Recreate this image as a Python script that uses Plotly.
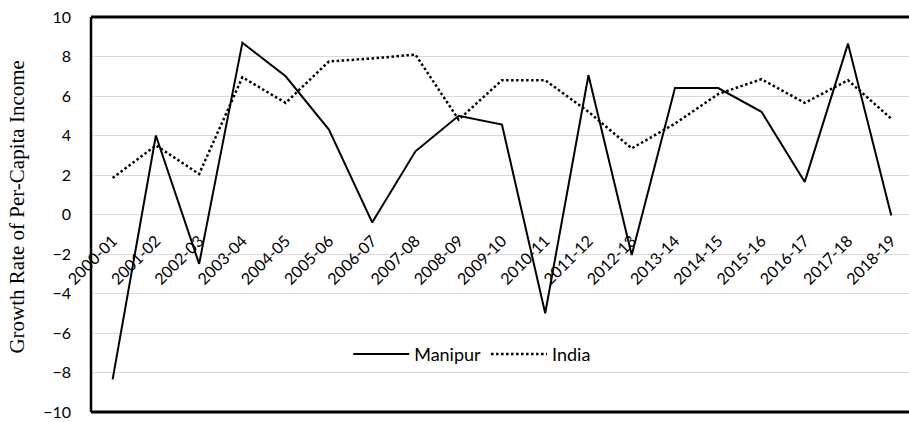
import plotly.graph_objects as go

# Financial years
years = ["2000-01", "2001-02", "2002-03", "2003-04", "2004-05", "2005-06",
         "2006-07", "2007-08", "2008-09", "2009-10", "2010-11", "2011-12",
         "2012-13", "2013-14", "2014-15", "2015-16", "2016-17", "2017-18",
         "2018-19"]

# Growth rate of per-capita income (%)
manipur = [-8.35, 4.0, -2.5, 8.7, 7.0, 4.3, -0.4, 3.2, 5.0, 4.55,
           -5.0, 7.05, -2.05, 6.4, 6.4, 5.2, 1.65, 8.65, -0.05]
india = [1.85, 3.5, 2.05, 6.95, 5.65, 7.75, 7.9, 8.1, 4.8, 6.8,
         6.8, 5.2, 3.35, 4.6, 6.1, 6.85, 5.65, 6.8, 4.85]

y_ticks = list(range(-10, 11, 2))

W, H = 909, 422
M_L, M_T, M_B = 91, 17, 10

fig = go.Figure()
fig.add_trace(go.Scatter(x=years, y=manipur, name="Manipur", mode="lines",
                         line=dict(color="black", width=2)))
fig.add_trace(go.Scatter(x=years, y=india, name="India", mode="lines",
                         line=dict(color="black", width=2.5, dash="2.5px,2.5px")))

fig.update_layout(
    width=W, height=H,
    margin=dict(l=M_L, r=0, t=M_T, b=M_B),
    paper_bgcolor="white", plot_bgcolor="white",
    font=dict(family="Lato", size=15, color="black"),
    showlegend=True,
    legend=dict(orientation="h", x=0.466, y=0.146, xanchor="center",
                yanchor="middle", font=dict(family="Lato", size=18),
                itemwidth=56, bgcolor="rgba(0,0,0,0)"),
    xaxis=dict(type="category", range=[-0.5, 18.41], anchor="free",
               position=0.5, showgrid=False, showline=False, zeroline=False,
               ticks="", tickangle=-45, ticklabelstandoff=13,
               tickfont=dict(size=16)),
    yaxis=dict(range=[-10, 10], tickvals=y_ticks, showgrid=True,
               gridcolor="#d9d9d9", gridwidth=1, zeroline=False,
               showline=False, ticks="", ticklabelstandoff=19,
               tickfont=dict(size=16)),
)

# frame: left, top and bottom edges of the plot area
for x0, y0, x1, y1, w in [(0, 0, 0, 1, 2.5), (0, 1, 1.01, 1, 3), (0, 0, 1.01, 0, 3)]:
    fig.add_shape(type="line", xref="paper", yref="paper", x0=x0, y0=y0,
                  x1=x1, y1=y1, line=dict(color="black", width=w))

fig.add_annotation(text="Growth Rate of Per-Capita Income", xref="paper",
                   yref="paper", x=-(M_L - 17) / (W - M_L), y=0.52,
                   xanchor="center", yanchor="middle", textangle=-90,
                   showarrow=False,
                   font=dict(family="Liberation Serif", size=21, color="black"))

fig.write_html("out.html")
